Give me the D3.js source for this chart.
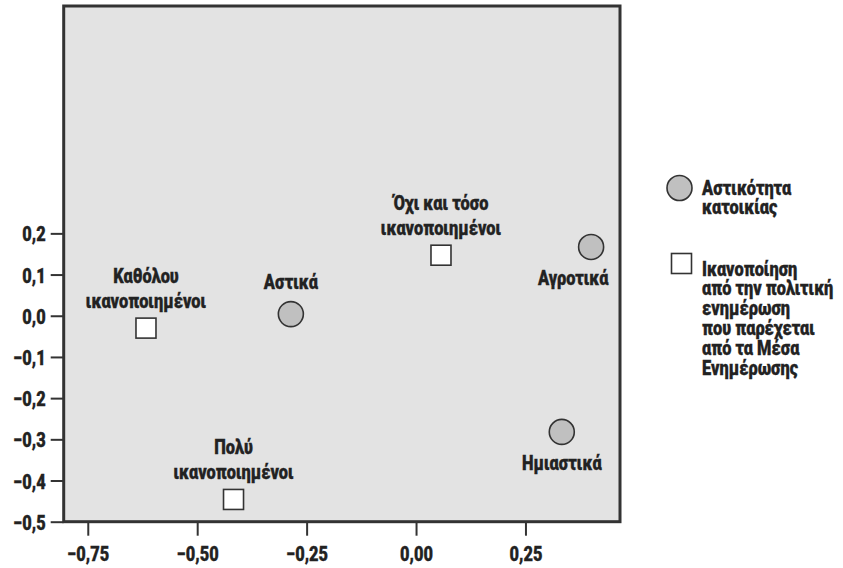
<!DOCTYPE html>
<html>
<head>
<meta charset="utf-8">
<script src="https://cdn.jsdelivr.net/npm/d3@7"></script>
<style>
  html, body { margin: 0; padding: 0; background: #fff; }
  svg text {
    font-family: Roboto, "Noto Sans", sans-serif;
    font-weight: 900;
    fill: #222;
    stroke: #222;
    stroke-width: 0.35px;
  }
</style>
</head>
<body>
<svg id="chart" width="843" height="568"></svg>
<script>
// Category points (two-dimensional correspondence map)
const pointNames = [
  ["Καθόλου", "ικανοποιημένοι"],
  ["Αστικά"],
  ["Όχι και τόσο", "ικανοποιημένοι"],
  ["Αγροτικά"],
  ["Ημιαστικά"],
  ["Πολύ", "ικανοποιημένοι"]
];
const dim1 = [-0.617, -0.286, 0.057, 0.400, 0.333, -0.417];
const dim2 = [-0.030, 0.004, 0.147, 0.167, -0.282, -0.446];
const pointGroup = ["satisfaction", "residence", "satisfaction", "residence", "residence", "satisfaction"];
const labelSide = ["above", "above", "above", "below", "below", "above"];

const xTicks = [-0.75, -0.50, -0.25, 0.00, 0.25];
const yTicks = [-0.5, -0.4, -0.3, -0.2, -0.1, 0.0, 0.1, 0.2];

const legendGroups = ["residence", "satisfaction"];
const legendLabels = [
  ["Αστικότητα", "κατοικίας"],
  ["Ικανοποίηση", "από την πολιτική", "ενημέρωση", "που παρέχεται", "από τα Μέσα", "Ενημέρωσης"]
];

const locale = d3.formatLocale({decimal: ",", thousands: ".", grouping: [3], currency: ["", "€"], minus: "\u2212"});
const fmtX = locale.format(".2f");
const fmtY = locale.format(".1f");

const FONT_SIZE = 20.5;
const NARROW = 0.8;   // horizontal squeeze for a condensed look

const svg = d3.select("#chart");
const frame = {left: 63.7, right: 620, top: 6, bottom: 521.7};

const x = d3.scaleLinear().domain([-0.805, 0.466]).range([frame.left, frame.right]);
const y = d3.scaleLinear().domain([-0.5, 0.752]).range([frame.bottom, frame.top]);

// multi-line condensed text block; (px, py) is the first baseline
function textBlock(parent, px, py, lines, anchor, gap) {
  const g = parent.append("g").attr("transform", `translate(${px},${py}) scale(${NARROW},1)`);
  const t = g.append("text").attr("font-size", FONT_SIZE).attr("text-anchor", anchor);
  lines.forEach((ln, k) => t.append("tspan").attr("x", 0).attr("y", k * gap).text(ln));
  return {g, t, px, py};
}

// plot background
svg.append("rect")
  .attr("x", frame.left).attr("y", frame.top)
  .attr("width", frame.right - frame.left).attr("height", frame.bottom - frame.top)
  .attr("fill", "#e3e3e3");

// axes
const xAxis = svg.append("g")
  .attr("transform", `translate(0,${frame.bottom})`)
  .call(d3.axisBottom(x).tickValues(xTicks).tickSize(14).tickFormat(fmtX));
const yAxis = svg.append("g")
  .attr("transform", `translate(${frame.left},0)`)
  .call(d3.axisLeft(y).tickValues(yTicks).tickSize(13).tickFormat(fmtY));
[xAxis, yAxis].forEach(g => {
  g.select(".domain").remove();
  g.selectAll(".tick line").attr("stroke", "#333").attr("stroke-width", 2);
  g.attr("font-family", null).attr("font-size", null);
});
// tick labels redrawn in the condensed style
xAxis.selectAll(".tick").each(function (d) {
  d3.select(this).select("text").remove();
  textBlock(d3.select(this), 0, 39.5, [fmtX(d)], "middle", 0);
});
yAxis.selectAll(".tick").each(function (d) {
  d3.select(this).select("text").remove();
  textBlock(d3.select(this), -18, 7.5, [fmtY(d)], "end", 0);
});

// frame
svg.append("rect")
  .attr("x", frame.left).attr("y", frame.top)
  .attr("width", frame.right - frame.left).attr("height", frame.bottom - frame.top)
  .attr("fill", "none").attr("stroke", "#333").attr("stroke-width", 3);

const circleR = 12.5, squareSize = 20;
function drawMarker(sel, group, cx, cy) {
  if (group === "residence") {
    sel.append("circle").attr("cx", cx).attr("cy", cy).attr("r", circleR)
      .attr("fill", "#c0c0c0").attr("stroke", "#333").attr("stroke-width", 1.6);
  } else {
    sel.append("rect").attr("x", cx - squareSize / 2).attr("y", cy - squareSize / 2)
      .attr("width", squareSize).attr("height", squareSize)
      .attr("fill", "#fff").attr("stroke", "#333").attr("stroke-width", 1.6);
  }
}

// points with labels
const lineGap = 25;
const pts = svg.append("g");
dim1.forEach((v, i) => {
  const cx = x(v), cy = y(dim2[i]);
  const g = pts.append("g");
  drawMarker(g, pointGroup[i], cx, cy);
  const lines = pointNames[i];
  const isCircle = pointGroup[i] === "residence";
  const firstBase = labelSide[i] === "above"
    ? cy - (isCircle ? 25 : 20) - (lines.length - 1) * lineGap
    : cy + 38.5;
  const blk = textBlock(g, cx, firstBase, lines, "middle", lineGap);
  // keep labels inside the frame
  const bb = blk.t.node().getBBox();
  const right = cx + (bb.x + bb.width) * NARROW;
  const maxRight = frame.right - 11;
  if (right > maxRight) {
    blk.g.attr("transform", `translate(${cx - (right - maxRight)},${firstBase}) scale(${NARROW},1)`);
  }
});

// legend
const legend = svg.append("g");
const legendTop = [188, 263.5];
legendGroups.forEach((grp, i) => {
  const cy = legendTop[i];
  drawMarker(legend, grp, grp === "residence" ? 679.5 : 681.5, cy);
  textBlock(legend, 702, cy + (i === 0 ? 6.5 : 12), legendLabels[i], "start", 20);
});
</script>
</body>
</html>
